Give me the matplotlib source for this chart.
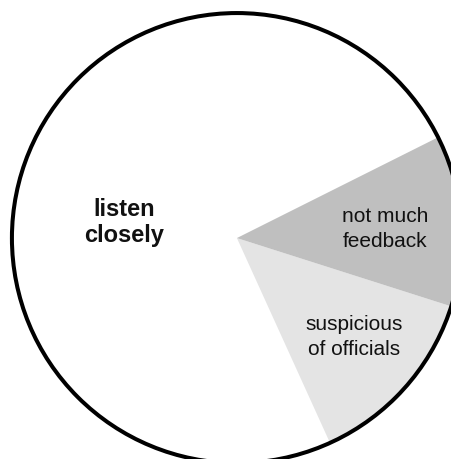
import matplotlib
matplotlib.use("Agg")
import matplotlib.pyplot as plt

plt.rcParams.update({
    "font.family": ["Liberation Sans", "DejaVu Sans"],
    "font.size": 15,
})

# slice shares (%), counter-clockwise from the upper-right edge
labels = ["listen\nclosely", "suspicious\nof officials", "not much\nfeedback"]
shares = [74.4, 13.3, 12.3]
colors = ["#ffffff", "#e4e4e4", "#bfbfbf"]
bold = [True, False, False]
label_pos = [(-0.50, 0.07), (0.52, -0.44), (0.66, 0.04)]

fig = plt.figure(figsize=(4.52, 4.59), dpi=100)
ax = fig.add_axes([0, 0, 1, 1])
ax.pie(shares, colors=colors, startangle=26.6, counterclock=True,
       wedgeprops=dict(edgecolor="none", linewidth=0), radius=1.0)
ax.add_patch(plt.Circle((0, 0), 1.0, fill=False, lw=2.9, color="black"))

for lab, (x, y), b in zip(labels, label_pos, bold):
    ax.text(x, y, lab, ha="center", va="center",
            linespacing=1.2 if b else 1.38,
            fontweight="bold" if b else "normal",
            fontsize=17 if b else 15, color="#111111")

ax.set_aspect("auto")
ax.set_xlim(-1.053, 0.956)
ax.set_ylim(-0.982, 1.058)
ax.axis("off")
fig.savefig("out.png", dpi=100)
